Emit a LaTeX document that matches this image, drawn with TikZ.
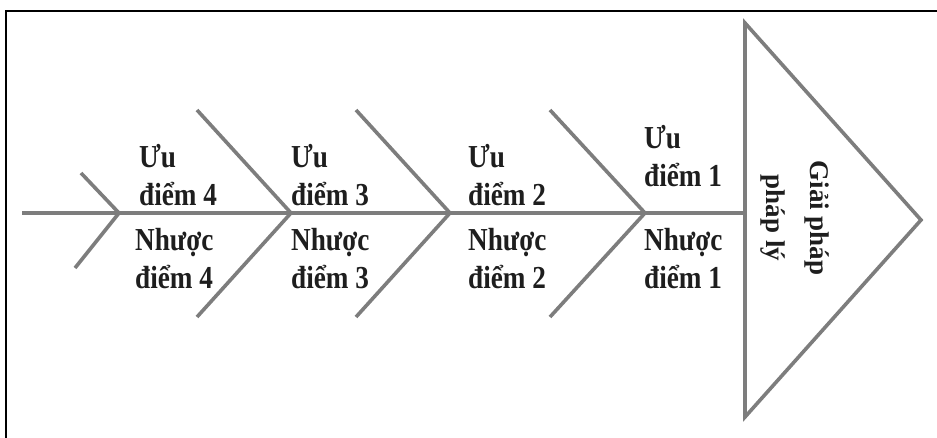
\documentclass[tikz,border=0pt]{standalone}
\usepackage{fontspec}
\setmainfont{Liberation Serif}
\newfontfamily\tallserif[FakeStretch=0.85]{Liberation Serif}
\definecolor{bonegray}{RGB}{125,125,125}
\definecolor{textdark}{RGB}{30,30,30}

\begin{document}
\begin{tikzpicture}[x=1pt,y=-1pt,
	bone/.style={draw=bonegray,line width=3.6pt},
	lbl/.style={anchor=west,align=left,inner sep=0pt,text=textdark,
		font=\tallserif\fontsize{32}{38}\selectfont\bfseries}]
	\useasboundingbox (0,0) rectangle (937,438);
	\draw[line width=2pt] (6,460) -- (6,11) -- (960,11);

	% Points start here
	\coordinate (S) at (22,213);
	\coordinate (J4) at (119,213);
	\coordinate (J3) at (291,213);
	\coordinate (J2) at (450,213);
	\coordinate (J1) at (645,213);
	\coordinate (U4) at (81,173);
	\coordinate (D4) at (75,268);
	\coordinate (U3) at (197,110);
	\coordinate (D3) at (197,317);
	\coordinate (U2) at (356,110);
	\coordinate (D2) at (356,317);
	\coordinate (U1) at (550,110);
	\coordinate (D1) at (550,317);
	\coordinate (TA) at (745,23);
	\coordinate (TB) at (745,417);
	\coordinate (TC) at (921,220);
	\coordinate (TM) at (745,213);

	% Head starts here
	\draw[bone,fill=white,line join=miter] (TA) -- (TC) -- (TB) -- cycle;
	\node (head) at (795,218) [rotate=-90,align=center,inner sep=0pt,text=textdark,
		font=\fontsize{27}{44}\selectfont\bfseries] {Giải pháp\\pháp lý};

	% Lines start here
	\draw[bone] (S) to (TM);
	\draw[bone] (U4) to (J4) to (D4);
	\draw[bone] (U3) to (J3) to (D3);
	\draw[bone] (U2) to (J2) to (D2);
	\draw[bone] (U1) to (J1) to (D1);

	% Labels start here
	\node (P4) at (139,175) [lbl] {Ưu\\điểm 4};
	\node (N4) at (135,259) [lbl] {Nhược\\điểm 4};
	\node (P3) at (291,175) [lbl] {Ưu\\điểm 3};
	\node (N3) at (291,259) [lbl] {Nhược\\điểm 3};
	\node (P2) at (468,175) [lbl] {Ưu\\điểm 2};
	\node (N2) at (468,259) [lbl] {Nhược\\điểm 2};
	\node (P1) at (644,156) [lbl] {Ưu\\điểm 1};
	\node (N1) at (644,259) [lbl] {Nhược\\điểm 1};

\end{tikzpicture}
\end{document}
